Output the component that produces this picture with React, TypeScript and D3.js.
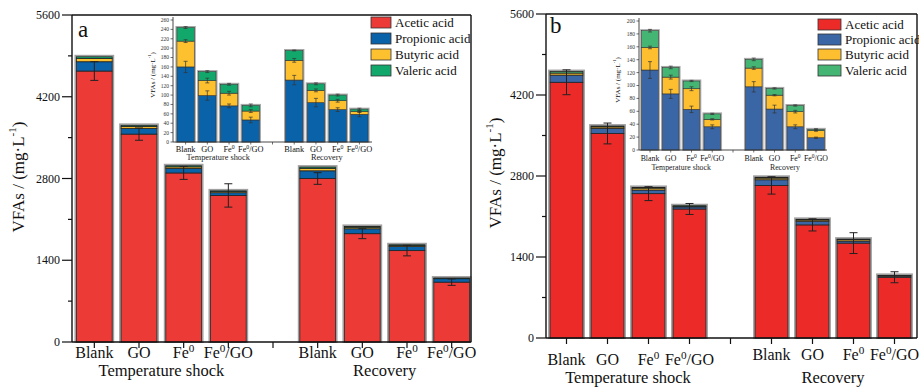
import * as d3 from "d3";

const FONT = "'Liberation Serif', 'Times New Roman', serif";

// categories and labels
const categories = ["Blank", "GO", "Fe0", "Fe0/GO"];
const groups = ["Temperature shock", "Recovery"];
const acids = ["Acetic acid", "Propionic acid", "Butyric acid", "Valeric acid"];
const mainTicks = [0, 1400, 2800, 4200, 5600];
const mainMinorTicks = [700, 2100, 3500, 4900];
const insetTicksA = [0, 20, 40, 60, 80, 100, 120, 140, 160, 180, 200, 220, 240, 260];
const insetTicksB = [0, 20, 40, 60, 80, 100, 120, 140, 160, 180, 200];

// panel a (temperature shock x4, recovery x4)
const aceticA = [4640, 3560, 2895, 2510, 2800, 1855, 1565, 1025];
const aceticErrA = [160, 105, 110, 200, 100, 85, 90, 55];
const propA = [160, 99, 77, 47, 132, 84, 69, 59];
const propErrA = [12, 10, 4, 6, 10, 9, 4, 5];
const butA = [55, 32, 27, 19, 42, 26, 19, 6];
const butErrA = [3, 5, 4, 3, 4, 3, 3, 2];
const valA = [29, 19, 19, 12, 21, 14, 12, 5];
const valErrA = [2, 2, 2, 3, 1, 2, 2, 2];

// panel b
const aceticB = [4420, 3535, 2495, 2230, 2637, 1955, 1640, 1050];
const aceticErrB = [215, 180, 120, 95, 150, 105, 180, 95];
const propB = [124, 87, 63, 36, 98, 63.5, 36, 19];
const propErrB = [13, 7, 5, 3, 8, 6, 3, 1];
const butB = [35, 26, 32, 11.5, 29, 21.5, 23.5, 11];
const butErrB = [2, 3, 3, 1, 2, 1, 2, 1];
const valB = [26, 15, 12, 8.5, 13.5, 10.5, 9.5, 2];
const valErrB = [2, 2, 1, 1, 2, 1, 1, 1];

const colorsA = ["#ec3a37", "#0a62a8", "#fdc02f", "#12a86c"];
const colorsB = ["#ec2a28", "#3a66a6", "#fdbf2f", "#45b574"];

const slots = [...categories.map((c) => "T" + c), "gap", ...categories.map((c) => "R" + c)];
const slotOf = (i: number) => slots[i < 4 ? i : i + 1];

const CatLabel = ({ x, y, text, fs }: { x: number; y: number; text: string; fs: number }) => {
  if (text.startsWith("Fe0")) {
    const rest = text.slice(3);
    return (
      <text x={x} y={y} fontSize={fs} textAnchor="middle" fontFamily={FONT} fill="#111">
        Fe
        <tspan dy={-fs * 0.4} fontSize={fs * 0.7}>0</tspan>
        {rest && <tspan dy={fs * 0.4}>{rest}</tspan>}
      </text>
    );
  }
  return (
    <text x={x} y={y} fontSize={fs} textAnchor="middle" fontFamily={FONT} fill="#111">
      {text}
    </text>
  );
};

const YTitle = ({ x, y, fs }: { x: number; y: number; fs: number }) => (
  <text
    transform={`translate(${x},${y}) rotate(-90)`}
    textAnchor="middle"
    fontSize={fs}
    fontFamily={FONT}
    fill="#111"
    dominantBaseline="middle"
  >
    VFAs / (mg·L
    <tspan dy={-fs * 0.4} fontSize={fs * 0.65}>-1</tspan>
    <tspan dy={fs * 0.4}>)</tspan>
  </text>
);

type InsetGeo = {
  ax: number; axEnd: number; po: number; y0: number; yTop: number; max: number;
  ticks: number[]; titleX: number; titleY: number; tickBase: number; groupBase: number; fs: number;
};
type Geo = {
  ax: number; axEnd: number; y0: number; yTop: number; frameRight: number;
  tickBase: number[]; groupBase: number; titleX: number; titleY: number;
  letter: string; letterX: number; letterY: number;
  legendX: number; legendY: number[]; legendW: number; inset: InsetGeo;
};

type PanelProps = {
  g: Geo; colors: string[];
  acetic: number[]; aceticErr: number[];
  prop: number[]; propErr: number[];
  but: number[]; butErr: number[];
  val: number[]; valErr: number[];
};

const Panel = ({ g, colors, acetic, aceticErr, prop, propErr, but, butErr, val, valErr }: PanelProps) => {
  const x = d3.scaleBand<string>().domain(slots).range([g.ax, g.axEnd]).paddingInner(0.2).paddingOuter(0.1);
  const y = d3.scaleLinear().domain([0, 5600]).range([g.y0, g.yTop]);
  const ig = g.inset;
  const ix = d3.scaleBand<string>().domain(slots).range([ig.ax, ig.axEnd]).paddingInner(0.2).paddingOuter(ig.po);
  const iy = d3.scaleLinear().domain([0, ig.max]).range([ig.y0, ig.yTop]);

  const mainSeries = [acetic, prop, but, val];
  const insetSeries = [prop, but, val];
  const insetErrs = [propErr, butErr, valErr];

  return (
    <g>
      {/* main bars */}
      {acetic.map((_, i) => {
        const bx = x(slotOf(i)) as number;
        const bw = x.bandwidth();
        let cum = 0;
        const segs = mainSeries.map((s, k) => {
          const lo = cum;
          cum += s[i];
          return { lo, hi: cum, k };
        });
        const e = aceticErr[i];
        const cx = bx + bw / 2;
        return (
          <g key={"m" + i}>
            <rect x={bx - 1} y={y(cum) - 1} width={bw + 2} height={y(0) - y(cum) + 1} fill="none" stroke="#a0a0a0" strokeWidth={2} />
            {segs.map((s) => (
              <rect key={s.k} x={bx} y={y(s.hi)} width={bw} height={y(s.lo) - y(s.hi)} fill={colors[s.k]} stroke="#222" strokeWidth={0.8} />
            ))}
            <g stroke="#222" strokeWidth={1}>
              <line x1={cx} x2={cx} y1={y(acetic[i] + e)} y2={y(acetic[i] - e)} />
              <line x1={cx - 4} x2={cx + 4} y1={y(acetic[i] + e)} y2={y(acetic[i] + e)} />
              <line x1={cx - 4} x2={cx + 4} y1={y(acetic[i] - e)} y2={y(acetic[i] - e)} />
            </g>
          </g>
        );
      })}

      {/* frame and axes */}
      <g stroke="#111" strokeWidth={1.4} fill="none">
        <line x1={g.ax} x2={g.ax} y1={g.y0} y2={g.yTop} />
        <line x1={g.ax} x2={g.frameRight} y1={g.y0} y2={g.y0} />
        <line x1={g.ax} x2={g.frameRight} y1={g.yTop} y2={g.yTop} />
        <line x1={g.frameRight} x2={g.frameRight} y1={g.yTop} y2={g.y0} />
      </g>
      {mainTicks.map((t) => (
        <g key={"yt" + t}>
          <line x1={g.ax - 10} x2={g.ax} y1={y(t)} y2={y(t)} stroke="#111" strokeWidth={1.2} />
          <text x={g.ax - 12} y={y(t)} dy="0.35em" textAnchor="end" fontSize={12} fontFamily={FONT} fill="#111">
            {t}
          </text>
        </g>
      ))}
      {mainMinorTicks.map((t) => (
        <line key={"ym" + t} x1={g.ax - 4} x2={g.ax} y1={y(t)} y2={y(t)} stroke="#111" strokeWidth={1.2} />
      ))}
      {slots.map((s) => {
        const cx = (x(s) as number) + x.bandwidth() / 2;
        return <line key={"xt" + s} x1={cx} x2={cx} y1={g.y0} y2={g.y0 + 6} stroke="#111" strokeWidth={1.2} />;
      })}
      {acetic.map((_, i) => {
        const cx = (x(slotOf(i)) as number) + x.bandwidth() / 2;
        return <CatLabel key={"xl" + i} x={cx} y={g.tickBase[i < 4 ? 0 : 1]} text={categories[i % 4]} fs={16} />;
      })}
      {groups.map((gr, gi) => {
        const a = (x(slotOf(gi * 4)) as number);
        const b = (x(slotOf(gi * 4 + 3)) as number) + x.bandwidth();
        return (
          <text key={gr} x={(a + b) / 2} y={g.groupBase} textAnchor="middle" fontSize={16.5} fontFamily={FONT} fill="#111">
            {gr}
          </text>
        );
      })}
      <YTitle x={g.titleX} y={g.titleY} fs={17} />
      <text x={g.letterX} y={g.letterY} fontSize={23} fontFamily={FONT} fill="#111">
        {g.letter}
      </text>

      {/* legend */}
      {acids.map((a, k) => (
        <g key={a}>
          <rect x={g.legendX} y={g.legendY[k]} width={g.legendW} height={11} fill={colors[k]} stroke="#333" strokeWidth={0.8} />
          <text x={g.legendX + g.legendW + 4} y={g.legendY[k] + 10} fontSize={13} fontFamily={FONT} fill="#111">
            {a}
          </text>
        </g>
      ))}

      {/* inset */}
      {prop.map((_, i) => {
        const bx = ix(slotOf(i)) as number;
        const bw = ix.bandwidth();
        const cx = bx + bw / 2;
        let cum = 0;
        const segs = insetSeries.map((s, k) => {
          const lo = cum;
          cum += s[i];
          return { lo, hi: cum, k, e: insetErrs[k][i] };
        });
        return (
          <g key={"i" + i}>
            <rect x={bx - 0.8} y={iy(cum) - 0.8} width={bw + 1.6} height={iy(0) - iy(cum) + 0.8} fill="none" stroke="#a8a8a8" strokeWidth={1.4} />
            {segs.map((s) => (
              <rect key={s.k} x={bx} y={iy(s.hi)} width={bw} height={iy(s.lo) - iy(s.hi)} fill={colors[s.k + 1]} stroke="#333" strokeWidth={0.6} />
            ))}
            {segs.map((s) => (
              <g key={"e" + s.k} stroke="#333" strokeWidth={0.7}>
                <line x1={cx} x2={cx} y1={iy(s.hi + s.e)} y2={iy(s.hi - s.e)} />
                <line x1={cx - 2} x2={cx + 2} y1={iy(s.hi + s.e)} y2={iy(s.hi + s.e)} />
                <line x1={cx - 2} x2={cx + 2} y1={iy(s.hi - s.e)} y2={iy(s.hi - s.e)} />
              </g>
            ))}
          </g>
        );
      })}
      <g stroke="#333" strokeWidth={0.9}>
        <line x1={ig.ax} x2={ig.ax} y1={ig.y0} y2={iy(ig.max) - 3} />
        <line x1={ig.ax} x2={ig.axEnd} y1={ig.y0} y2={ig.y0} />
      </g>
      {ig.ticks.map((t) => (
        <g key={"it" + t}>
          <line x1={ig.ax - 2.5} x2={ig.ax} y1={iy(t)} y2={iy(t)} stroke="#333" strokeWidth={0.7} />
          <text x={ig.ax - 4} y={iy(t)} dy="0.35em" textAnchor="end" fontSize={5.5} fontFamily={FONT} fill="#333">
            {t}
          </text>
        </g>
      ))}
      {slots.map((s) => {
        const cx = (ix(s) as number) + ix.bandwidth() / 2;
        return <line key={"ixt" + s} x1={cx} x2={cx} y1={ig.y0} y2={ig.y0 + 2.5} stroke="#333" strokeWidth={0.7} />;
      })}
      {prop.map((_, i) => {
        const cx = (ix(slotOf(i)) as number) + ix.bandwidth() / 2;
        return <CatLabel key={"ixl" + i} x={cx} y={ig.tickBase} text={categories[i % 4]} fs={ig.fs} />;
      })}
      {groups.map((gr, gi) => {
        const a = ix(slotOf(gi * 4)) as number;
        const b = (ix(slotOf(gi * 4 + 3)) as number) + ix.bandwidth();
        return (
          <text key={"ig" + gr} x={(a + b) / 2} y={ig.groupBase} textAnchor="middle" fontSize={ig.fs} fontFamily={FONT} fill="#222">
            {gr}
          </text>
        );
      })}
      <YTitle x={ig.titleX} y={ig.titleY} fs={7} />
    </g>
  );
};

const geoA: Geo = {
  ax: 72, axEnd: 474, y0: 342, yTop: 15, frameRight: 471,
  tickBase: [358, 358], groupBase: 376, titleX: 20, titleY: 177,
  letter: "a", letterX: 78, letterY: 37,
  legendX: 371, legendY: [17, 33, 49, 65], legendW: 20,
  inset: { ax: 173, axEnd: 372, po: 0.18, y0: 142, yTop: 20, max: 260, ticks: insetTicksA,
    titleX: 153, titleY: 75, tickBase: 152, groupBase: 160, fs: 8.3 },
};

const geoB: Geo = {
  ax: 546, axEnd: 915, y0: 338, yTop: 14, frameRight: 917,
  tickBase: [365, 360], groupBase: 383, titleX: 497, titleY: 173,
  letter: "b", letterX: 550, letterY: 33,
  legendX: 818, legendY: [19, 34, 49, 65], legendW: 23,
  inset: { ax: 639, axEnd: 827, po: 0.13, y0: 150, yTop: 21, max: 200, ticks: insetTicksB,
    titleX: 618, titleY: 80, tickBase: 161, groupBase: 170, fs: 7.8 },
};

const App = () => (
  <svg width={919} height={387} style={{ position: "absolute", left: 0, top: 0, background: "#fff" }}>
    <rect width={919} height={387} fill="#fff" />
    <Panel g={geoA} colors={colorsA} acetic={aceticA} aceticErr={aceticErrA} prop={propA} propErr={propErrA}
      but={butA} butErr={butErrA} val={valA} valErr={valErrA} />
    <Panel g={geoB} colors={colorsB} acetic={aceticB} aceticErr={aceticErrB} prop={propB} propErr={propErrB}
      but={butB} butErr={butErrB} val={valB} valErr={valErrB} />
  </svg>
);

export default App;
